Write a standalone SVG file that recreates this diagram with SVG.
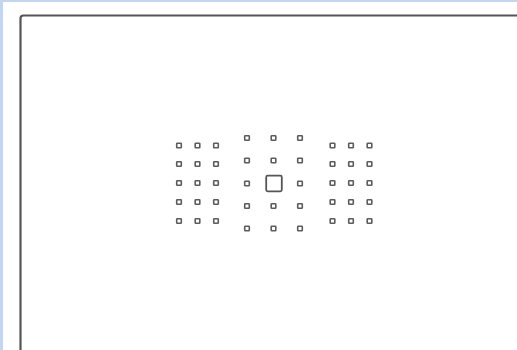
<svg xmlns="http://www.w3.org/2000/svg" width="517" height="350" viewBox="0 0 517 350">
<defs>
<style>
.pt{fill:none;stroke:#5c5c5c;stroke-width:1.6}
.frame{fill:#ffffff;stroke:#555555;stroke-width:2.2}
</style>
<rect id="p" class="pt" x="-2.3" y="-2.3" width="4.6" height="4.6" rx="0.6"/>
</defs>
<rect x="0" y="0" width="517" height="350" fill="#c5d5ef"/>
<rect x="3" y="2" width="514" height="348" fill="#ffffff"/>
<rect class="frame" x="20.5" y="15.5" width="520" height="360" rx="3"/>
<g id="left-group">
<use href="#p" x="179" y="145.5"/><use href="#p" x="197.5" y="145.5"/><use href="#p" x="216" y="145.5"/>
<use href="#p" x="179" y="164"/><use href="#p" x="197.5" y="164"/><use href="#p" x="216" y="164"/>
<use href="#p" x="179" y="183"/><use href="#p" x="197.5" y="183"/><use href="#p" x="216" y="183"/>
<use href="#p" x="179" y="202"/><use href="#p" x="197.5" y="202"/><use href="#p" x="216" y="202"/>
<use href="#p" x="179" y="221"/><use href="#p" x="197.5" y="221"/><use href="#p" x="216" y="221"/>
</g>
<g id="center-group">
<use href="#p" x="247" y="138"/><use href="#p" x="273.5" y="138"/><use href="#p" x="300" y="138"/>
<use href="#p" x="247" y="160.5"/><use href="#p" x="273.5" y="160.5"/><use href="#p" x="300" y="160.5"/>
<use href="#p" x="247" y="183.5"/><use href="#p" x="300" y="183.5"/>
<use href="#p" x="247" y="206"/><use href="#p" x="273.5" y="206"/><use href="#p" x="300" y="206"/>
<use href="#p" x="247" y="228.5"/><use href="#p" x="273.5" y="228.5"/><use href="#p" x="300" y="228.5"/>
<rect id="center-point" x="266.2" y="175.7" width="15.6" height="15.6" rx="1.5" fill="none" stroke="#555555" stroke-width="1.8"/>
</g>
<g id="right-group">
<use href="#p" x="332.5" y="145.5"/><use href="#p" x="351" y="145.5"/><use href="#p" x="369.5" y="145.5"/>
<use href="#p" x="332.5" y="164"/><use href="#p" x="351" y="164"/><use href="#p" x="369.5" y="164"/>
<use href="#p" x="332.5" y="183"/><use href="#p" x="351" y="183"/><use href="#p" x="369.5" y="183"/>
<use href="#p" x="332.5" y="202"/><use href="#p" x="351" y="202"/><use href="#p" x="369.5" y="202"/>
<use href="#p" x="332.5" y="221"/><use href="#p" x="351" y="221"/><use href="#p" x="369.5" y="221"/>
</g>
</svg>
